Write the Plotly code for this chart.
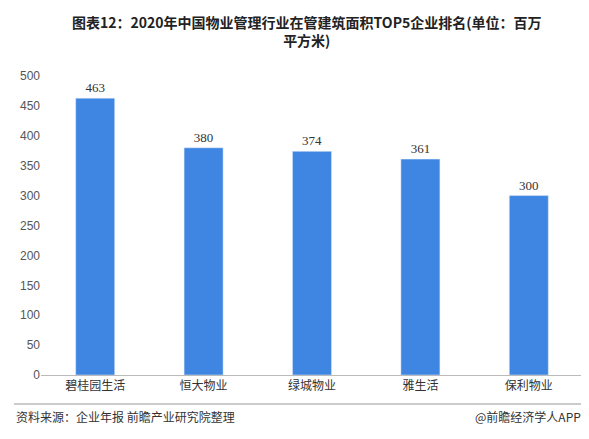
import plotly.graph_objects as go

companies = ['碧桂园生活', '恒大物业', '绿城物业', '雅生活', '保利物业']
area = [463, 380, 374, 361, 300]

fig = go.Figure()
fig.add_bar(x=companies, y=area, marker_color='#3F86E3', width=0.36,
            text=area, textposition='outside', cliponaxis=False,
            textfont=dict(family='Liberation Serif', size=13, color='#333'))
fig.update_layout(
    width=589, height=439, plot_bgcolor='white', paper_bgcolor='white',
    margin=dict(l=30, r=14, t=68, b=72), showlegend=False,
    font=dict(family='Noto Sans CJK SC', size=12, color='#333'),
)
fig.update_yaxes(range=[0, 500], dtick=50, showgrid=False, showline=False,
                 tickfont=dict(family='Liberation Sans', size=12, color='#555'), ticks='')
fig.update_xaxes(showline=True, linecolor='#bbb', tickfont=dict(size=12, color='#333'))
fig.add_annotation(text='<b>图表12：2020年中国物业管理行业在管建筑面积TOP5企业排名(单位：百万<br>平方米)</b>',
                   xref='paper', yref='paper', x=0.49, y=1.22, xanchor='center', yanchor='top',
                   showarrow=False, font=dict(size=14, color='#222'))
fig.add_shape(type='line', xref='paper', yref='paper', x0=-0.05, x1=1.02, y0=-0.097, y1=-0.097,
              line=dict(color='#999', width=1))
fig.add_annotation(text='资料来源：企业年报 前瞻产业研究院整理', xref='paper', yref='paper',
                   x=-0.05, y=-0.14, xanchor='left', yanchor='middle', showarrow=False,
                   font=dict(size=12, color='#333'))
fig.add_annotation(text='@前瞻经济学人APP', xref='paper', yref='paper',
                   x=1.0, y=-0.14, xanchor='right', yanchor='middle', showarrow=False,
                   font=dict(size=12, color='#333'))
fig.write_html('out.html')
